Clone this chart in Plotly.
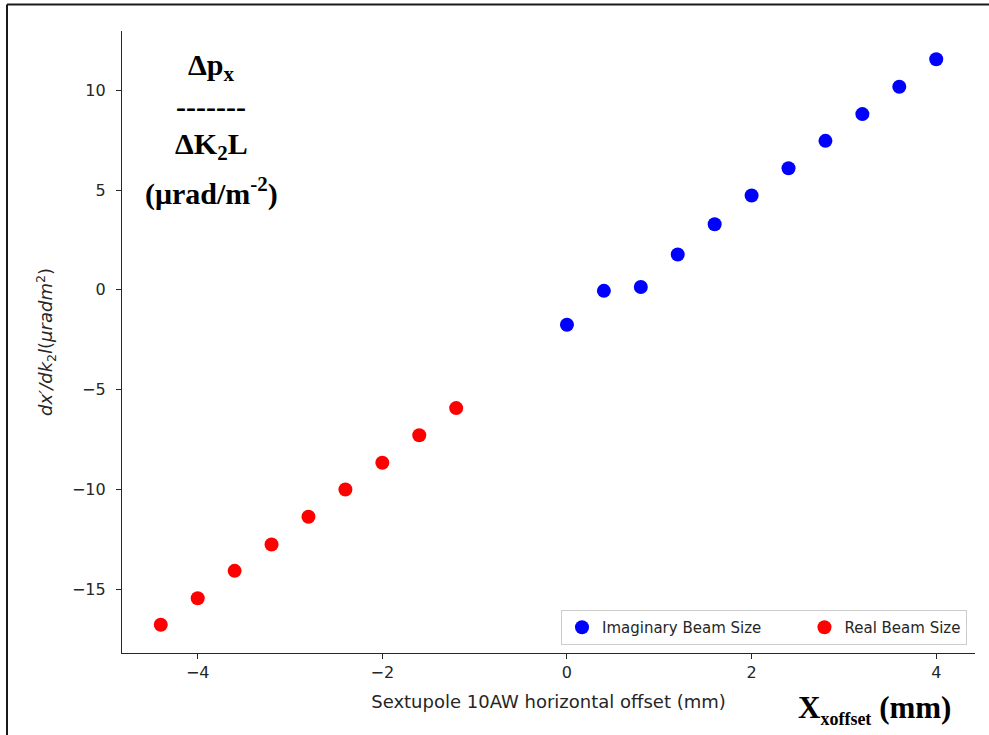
import plotly.graph_objects as go

# Sextupole 10AW horizontal offset scan (mm) and measured kick slope
imag_x = [0.0, 0.4, 0.8, 1.2, 1.6, 2.0, 2.4, 2.8, 3.2, 3.6, 4.0]
imag_y = [-1.75, -0.05, 0.14, 1.77, 3.29, 4.73, 6.10, 7.47, 8.81, 10.18, 11.56]

real_x = [-4.4, -4.0, -3.6, -3.2, -2.8, -2.4, -2.0, -1.6, -1.2]
real_y = [-16.79, -15.46, -14.09, -12.77, -11.38, -10.01, -8.67, -7.29, -5.93]

x_ticks = [-4, -2, 0, 2, 4]
y_ticks = [-15, -10, -5, 0, 5, 10]

W, H = 989, 735
ML, MR, MT, MB = 122, 14, 31, 82
PW, PH = W - ML - MR, H - MT - MB


def fx(px):
    """pixel column -> paper x"""
    return (px - ML) / PW


def fy(py):
    """pixel row -> paper y"""
    return (H - MB - py) / PH


def padded(vals, frac=0.05):
    lo, hi = min(vals), max(vals)
    d = (hi - lo) * frac
    return [lo - d, hi + d]


all_x = imag_x + real_x
all_y = imag_y + real_y

FONT = "DejaVu Sans"
SERIF = "Liberation Serif, Times New Roman, serif"
INK = "#262626"
GAP = "\u00a0" * 8  # extra room between the two legend entries

fig = go.Figure()
fig.add_trace(go.Scatter(
    x=imag_x, y=imag_y, mode="markers", name="Imaginary Beam Size" + GAP,
    marker=dict(color="#0000ff", size=14, line=dict(width=0)),
))
fig.add_trace(go.Scatter(
    x=real_x, y=real_y, mode="markers", name="Real Beam Size",
    marker=dict(color="#ff0000", size=14, line=dict(width=0)),
))

axis_common = dict(
    showgrid=False, zeroline=False, showline=True, linecolor=INK, linewidth=1.3,
    ticks="outside", ticklen=5, tickwidth=1.2, tickcolor=INK, mirror=False,
    tickfont=dict(family=FONT, size=16, color=INK), automargin=False,
)

fig.update_xaxes(
    range=padded(all_x), tickvals=x_ticks, **axis_common,
    title=dict(text="Sextupole 10AW horizontal offset (mm)",
               font=dict(family=FONT, size=18, color=INK), standoff=14),
)
fig.update_yaxes(
    range=padded(all_y), tickvals=y_ticks, ticklabelstandoff=7, **axis_common,
    title=dict(text="<i>dx′/dk</i><sub>2</sub><i>l</i>(<i>μradm</i><sup>2</sup>)",
               font=dict(family=FONT, size=18, color=INK), standoff=14),
)

annotations = []
block = [
    ("Δp<sub>x</sub>", 67),
    ("-------", 106),
    ("ΔK<sub>2</sub>L", 146),
    ("(μrad/m<sup>-2</sup>)", 192),
]
for txt, row in block:
    annotations.append(dict(
        text="<b>" + txt + "</b>", x=fx(211), y=fy(row), xref="paper", yref="paper",
        xanchor="center", yanchor="middle", showarrow=False,
        font=dict(family=SERIF, size=30, color="#000000"),
    ))
annotations.append(dict(
    text="<b>X<sub><span style='font-size:18px'>xoffset</span></sub> (mm)</b>",
    x=fx(953), y=fy(709), xref="paper", yref="paper",
    xanchor="right", yanchor="middle", showarrow=False,
    font=dict(family=SERIF, size=31, color="#000000"),
))

frame = dict(color="#1a1a1a", width=2)
shapes = [
    dict(type="line", xref="paper", yref="paper",
         x0=fx(7), x1=fx(W), y0=fy(4.5), y1=fy(4.5), line=frame),
    dict(type="line", xref="paper", yref="paper",
         x0=fx(7), x1=fx(7), y0=fy(4.5), y1=fy(H), line=frame),
]

fig.update_layout(
    width=W, height=H,
    margin=dict(l=ML, r=MR, t=MT, b=MB, pad=0),
    paper_bgcolor="white", plot_bgcolor="white",
    font=dict(family=FONT, color=INK),
    showlegend=True,
    legend=dict(
        orientation="h", x=fx(967), xanchor="right", y=fy(645), yanchor="bottom",
        bordercolor="#cccccc", borderwidth=1, bgcolor="rgba(255,255,255,0.9)",
        font=dict(family=FONT, size=15, color=INK),
    ),
    annotations=annotations,
    shapes=shapes,
)

fig.write_html("out.html")
